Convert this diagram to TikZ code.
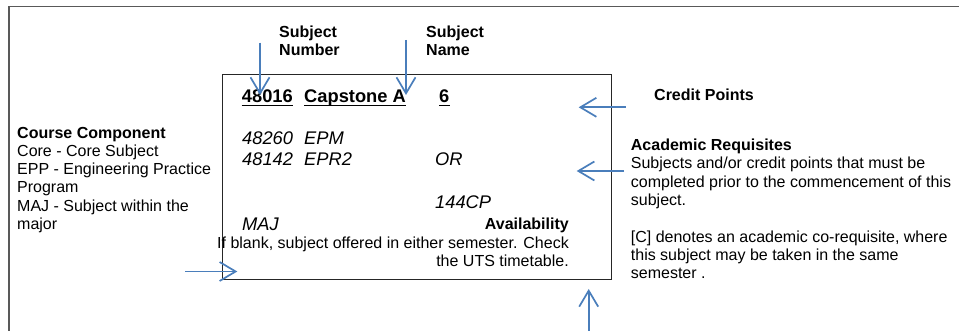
\documentclass[tikz,border=0pt]{standalone}
\usepackage{fontspec}
\setmainfont{Liberation Sans}
\usetikzlibrary{arrows.meta}
\definecolor{arrowblue}{HTML}{4A7EBB}
\tikzset{
  pointer/.style={draw=arrowblue,line width=1.7pt,-{Straight Barb[length=16pt,width=19pt]}},
  note/.style={anchor=base west,inner sep=0pt,align=left,font=\fontsize{16}{18.4}\selectfont},
  entry/.style={anchor=base west,inner sep=0pt,font=\fontsize{18.3}{20}\selectfont\itshape},
  head/.style={anchor=base west,inner sep=0pt,font=\fontsize{18.3}{20}\selectfont\bfseries},
  uline/.style={line width=1.4pt}
}
\begin{document}
\begin{tikzpicture}[x=1pt,y=-1pt]
  \useasboundingbox (0,0) rectangle (959,331);
  % page frame and subject box
  \draw[black!65,line width=1.6pt] (9,331) -- (9,6.5) -- (959,6.5);
  \draw[black!85,line width=1pt] (222.7,74.5) rectangle (611,280);

  % subject line
  \node[head] (num) at (241.7,102.3) {48016};
  \node[head] (name) at (304,102.3) {Capstone A};
  \node[head] (cp) at (439,102.3) {6};
  \foreach \n in {num,name,cp}
    \draw[uline] ([yshift=-3.2pt]\n.base west) -- ([yshift=-3.2pt]\n.base east);

  % requisites
  \node[entry] (reqa) at (242,144.5) {48260};
  \node[entry] (reqb) at (304,144.5) {EPM};
  \node[entry] (reqc) at (242,165.5) {48142};
  \node[entry] (reqd) at (304,165.5) {EPR2};
  \node[entry] (or) at (435,165.5) {OR};
  \node[entry] (cpreq) at (435,209) {144CP};
  \node[entry] (maj) at (242,230.5) {MAJ};
  % multi-line nodes sit on their last line
  \node[note,anchor=base east,align=right] (avail) at (569,266.5)
    {\textbf{Availability}\\If blank, subject offered in either semester. Check\\the UTS timetable.};

  % labels
  \node[note,font=\fontsize{16}{18.4}\selectfont\bfseries] (numlbl) at (279,56) {Subject\\Number};
  \node[note,font=\fontsize{16}{18.4}\selectfont\bfseries] (namelbl) at (426,56) {Subject\\Name};
  \node[note,font=\fontsize{16}{18.4}\selectfont\bfseries] (cplbl) at (654,101) {Credit Points};
  \node[note,font=\fontsize{16}{18.25}\selectfont] (complbl) at (17,229.3) {\textbf{Course Component}\\Core - Core Subject\\EPP - Engineering Practice\\Program\\MAJ - Subject within the\\major};
  \node[note] (reqlbl) at (630.7,279) {\textbf{Academic Requisites}\\Subjects and/or credit points that must be\\completed prior to the commencement of this\\subject.\\[18.4pt][C] denotes an academic co-requisite, where\\this subject may be taken in the same\\semester .};

  % pointers
  \coordinate (p1) at (260,42.7);   \coordinate (t1) at (260,95);
  \coordinate (p2) at (406,40);     \coordinate (t2) at (406,95);
  \coordinate (p3) at (625.7,107.3); \coordinate (t3) at (578.7,107.3);
  \coordinate (p4) at (624,171);    \coordinate (t4) at (576.7,171);
  \coordinate (p5) at (185,271.5);  \coordinate (t5) at (237.3,271.5);
  \coordinate (p6) at (588.7,331);  \coordinate (t6) at (588.7,289);
  \foreach \i in {1,...,6}
    \draw[pointer] (p\i) -- (t\i);
\end{tikzpicture}
\end{document}
